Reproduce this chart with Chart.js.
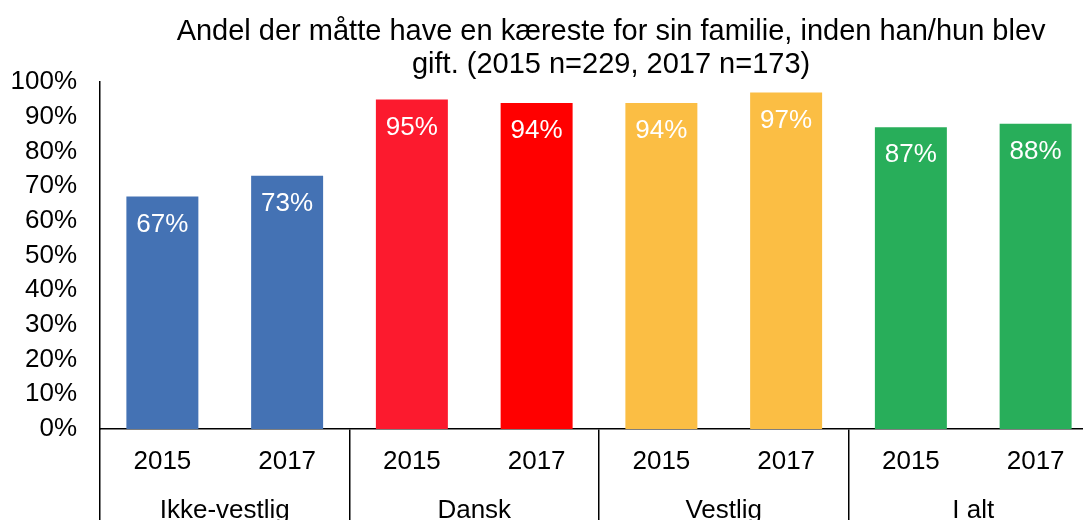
<!DOCTYPE html>
<html>
<head>
<meta charset="utf-8">
<script src="https://cdn.jsdelivr.net/npm/chart.js@4/dist/chart.umd.min.js"></script>
<style>
html,body{margin:0;padding:0;overflow:hidden;background:#fff;}
#wrap{width:1110px;height:560px;}
</style>
</head>
<body>
<div id="wrap"><canvas id="c" width="1110" height="560"></canvas></div>
<script>
const years = ['2015','2017','2015','2017','2015','2017','2015','2017'];
const groups = ['Ikke-vestlig','Dansk','Vestlig','I alt'];
const values = [67,73,95,94,94,97,87,88];
const barColors = ['#4472B4','#4472B4','#FC1A2E','#FF0000','#FBBE44','#FBBE44','#28AE5A','#28AE5A'];
const titleLines = ['   Andel der måtte have en kæreste for sin familie, inden han/hun blev','   gift. (2015 n=229, 2017 n=173)'];

const FONT = "'Liberation Sans', Arial, Helvetica, sans-serif";
Chart.defaults.font.family = FONT;
Chart.defaults.color = '#000';

const valueLabels = {
  id: 'valueLabels',
  afterDatasetsDraw(chart) {
    const ctx = chart.ctx;
    const meta = chart.getDatasetMeta(0);
    ctx.save();
    ctx.font = "26px " + FONT;
    ctx.fillStyle = '#fff';
    ctx.textAlign = 'center';
    ctx.textBaseline = 'middle';
    meta.data.forEach((bar, i) => {
      ctx.fillText(values[i] + '%', bar.x, bar.y + 28);
    });
    ctx.restore();
  }
};

new Chart(document.getElementById('c'), {
  type: 'bar',
  data: {
    labels: years,
    datasets: [{
      data: values,
      backgroundColor: barColors,
      borderWidth: 0,
      categoryPercentage: 1,
      barPercentage: 0.577
    }]
  },
  options: {
    responsive: false,
    animation: false,
    devicePixelRatio: 1,
    layout: { padding: { left: 0, right: 12, top: 0, bottom: 21 } },
    plugins: {
      legend: { display: false },
      tooltip: { enabled: false },
      title: {
        display: true,
        fullSize: false,
        text: titleLines,
        color: '#000',
        font: { size: 29, weight: 'normal', lineHeight: 1.14 },
        padding: { top: 15, bottom: 1 }
      }
    },
    scales: {
      y: {
        min: 0, max: 100,
        ticks: { stepSize: 10, padding: 23, font: { size: 26 }, color: '#000', callback: v => v + '%' },
        grid: { display: false, drawTicks: false },
        border: { display: true, color: '#000', width: 1.5 },
        afterFit: s => { s.width = 100; }
      },
      x: {
        type: 'category',
        position: 'bottom',
        weight: 1,
        offset: true,
        ticks: { padding: -74, font: { size: 26 }, color: '#000', maxRotation: 0, autoSkip: false },
        grid: {
          display: true, offset: true, drawOnChartArea: false, drawTicks: true, tickLength: 91,
          lineWidth: 1.5,
          color: c => (c.index % 2 === 0 ? '#000' : 'rgba(0,0,0,0)')
        },
        border: { display: true, color: '#000', width: 1.5 },
        afterFit: s => { s.height = 50; }
      },
      groups: {
        type: 'category',
        position: 'bottom',
        weight: 2,
        labels: groups,
        offset: true,
        ticks: { padding: 16, font: { size: 26 }, color: '#000', maxRotation: 0, autoSkip: false },
        grid: { display: false, drawTicks: false },
        border: { display: false },
        afterFit: s => { s.height = 60; }
      }
    }
  },
  plugins: [valueLabels]
});
</script>
</body>
</html>
